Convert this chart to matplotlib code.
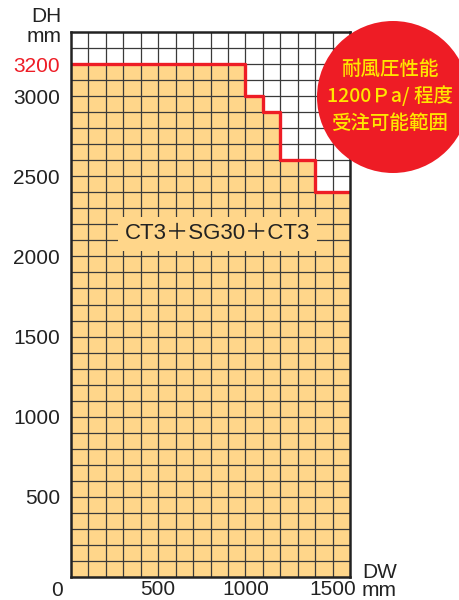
import numpy as np
import matplotlib
matplotlib.use("Agg")
import matplotlib.pyplot as plt
from matplotlib.patches import Ellipse

# step outline of the allowed area (DW in mm, DH in mm)
dw = [0, 1000, 1100, 1200, 1400, 1600]
dh = [3200, 3000, 2900, 2600, 2400, 2400]
y_ticks = [500, 1000, 1500, 2000, 2500, 3000]
x_ticks = [500, 1000, 1500]
label = "CT3＋SG30＋CT3"
badge = ["耐風圧性能", "1200Ｐa/ 程度", "受注可能範囲"]

plt.rcParams['font.family'] = ['Liberation Sans', 'Noto Sans CJK JP', 'DejaVu Sans']

fig = plt.figure(figsize=(4.6, 6), dpi=100)
ax = fig.add_axes([71/460, 23/600, 279/460, 545/600])
ax.set_xlim(0, 1600)
ax.set_ylim(0, 3400)

orange = "#FFD68A"
red = "#EE1C25"
ink = "#222222"
fs = 15

ax.fill_between(dw, dh, step="post", color=orange, lw=0, zorder=1)
for x in np.arange(100, 1600, 100):
    ax.axvline(x, color="#3a3a3a", lw=0.9, zorder=2)
for y in np.arange(100, 3400, 100):
    ax.axhline(y, color="#3a3a3a", lw=0.9, zorder=2)
ax.step(dw, dh, where="post", color=red, lw=2.4, zorder=3)

for s in ax.spines.values():
    s.set_linewidth(1.8)
    s.set_color("#222222")
    s.set_zorder(4)

ax.set_yticks(y_ticks + [3200])
ax.set_yticklabels([str(v) for v in y_ticks] + ["3200"], fontsize=fs, color=ink)
ax.get_yticklabels()[-1].set_color(red)
ax.set_xticks(x_ticks)
ax.set_xticklabels([str(v) for v in x_ticks], fontsize=fs, color=ink)
ax.tick_params(axis="y", length=0, pad=8)
ax.tick_params(axis="x", length=0, pad=2)

fig.text(57/460, 1 - 591/600, "0", fontsize=fs, color=ink, ha="center", va="center")
fig.text(62/460, 1 - 17/600, "DH", fontsize=fs, color=ink, ha="right", va="center")
fig.text(62/460, 1 - 36/600, "mm", fontsize=fs, color=ink, ha="right", va="center")
fig.text(362/460, 1 - 573/600, "DW", fontsize=fs, color=ink, ha="left", va="center")
fig.text(362/460, 1 - 591/600, "mm", fontsize=fs, color=ink, ha="left", va="center")

ax.text(840, 2140, label, fontsize=16, color=ink, ha="center", va="center", zorder=5,
        bbox=dict(boxstyle="square,pad=0.3", fc=orange, ec="none"))

fig.add_artist(Ellipse((393/460, 1 - 97/600), 152/460, 152/600, color=red, lw=0))
for i, t in enumerate(badge):
    fig.text(390/460, 1 - (69 + i * 27)/600, t, fontsize=14, color="#FFE600",
             ha="center", va="center", fontweight="medium",
             family=['Noto Sans CJK JP', 'DejaVu Sans'])

fig.savefig("out.png", dpi=100)
